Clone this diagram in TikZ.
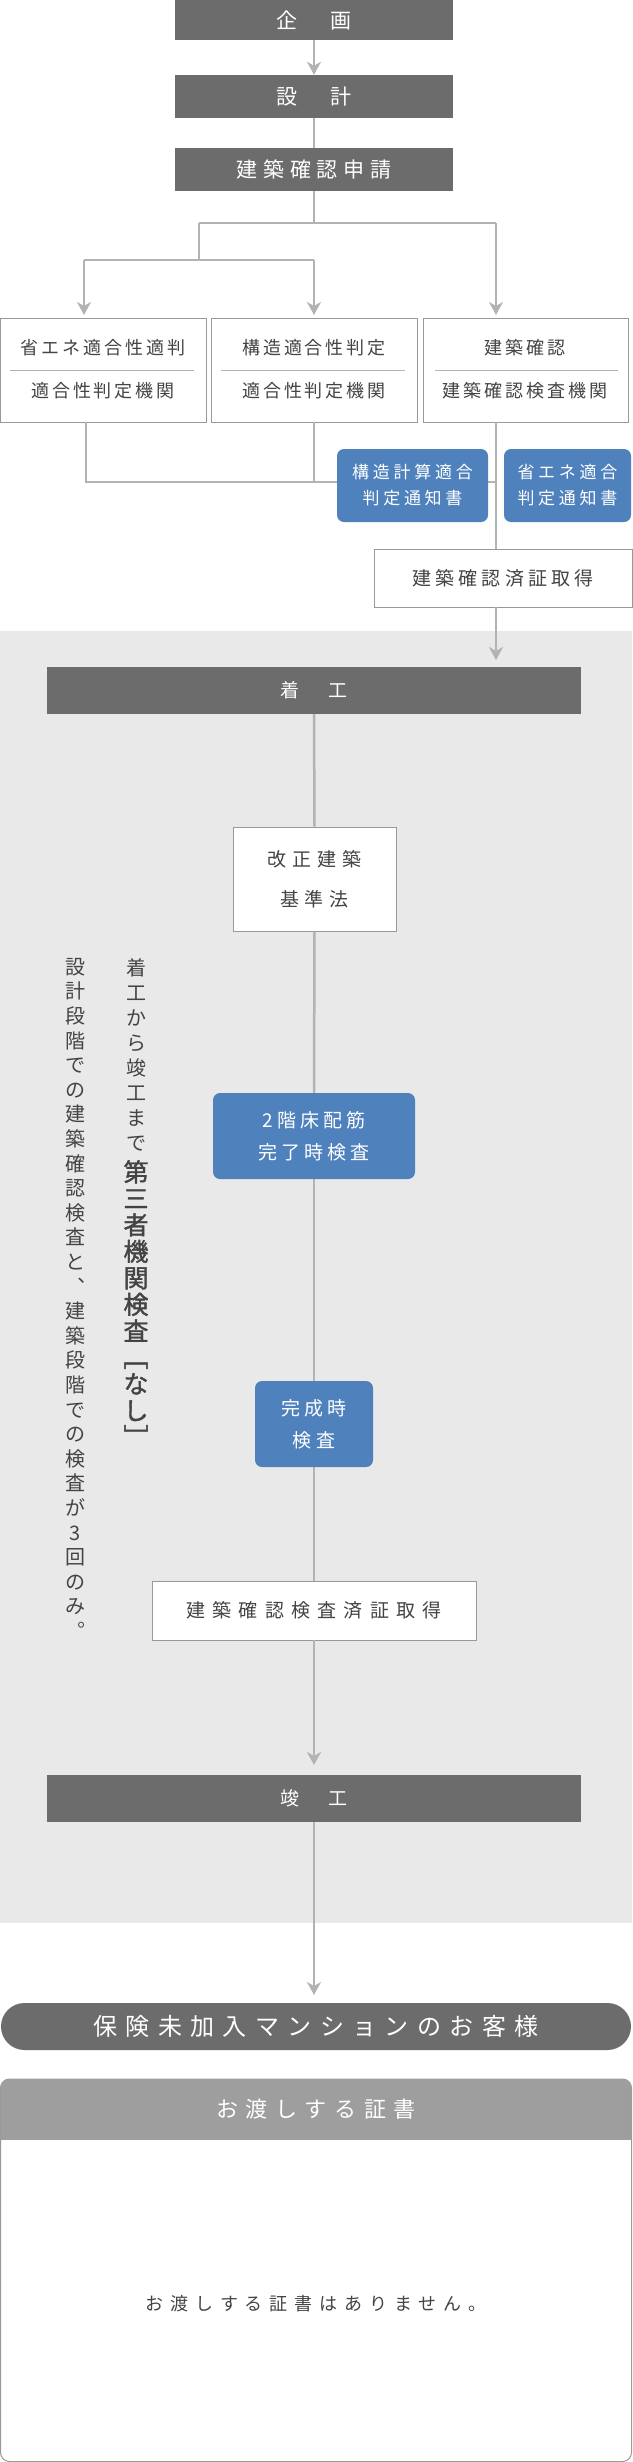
\documentclass[tikz,border=0pt]{standalone}
\usepackage{fontspec}
\setmainfont{Noto Sans CJK JP}
\usetikzlibrary{arrows.meta}
\definecolor{bar}{HTML}{6B6C6B}
\definecolor{blu}{HTML}{4F81BD}
\definecolor{bg}{HTML}{E9E9E9}
\definecolor{ln}{HTML}{B3B3B3}
\definecolor{txt}{HTML}{444444}
\definecolor{bd}{HTML}{999999}
\newcommand{\fs}[3]{\fontsize{#1}{#2}\selectfont\addfontfeature{LetterSpace=#3}}
\begin{document}
\begin{tikzpicture}[x=1pt,y=-1pt,
  darkbar/.style={fill=bar,text=white,inner sep=0pt,font=\fs{21}{24}{28}},
  wbox/.style={draw=bd,fill=white,line width=0.8pt,inner sep=0pt,text=txt,align=center},
  bbox/.style={fill=blu,rounded corners=7pt,inner sep=0pt,text=white,align=center,font=\fs{17}{26}{22}},
  conn/.style={draw=ln,line width=2.5pt},
  arr/.style={conn,-{Stealth[length=13pt,width=14pt,inset=4pt]}},
  lbl/.style={text=txt,inner sep=0pt,font=\fs{18}{22}{16}}]
\useasboundingbox (0,0) rectangle (632,2462);
\fill[bg] (0,631) rectangle (632,1923);
% top bars
\node[darkbar,minimum width=278pt,minimum height=40pt] (kikaku) at (314,20) {企　画};
\node[darkbar,minimum width=278pt,minimum height=43pt] (sekkei) at (314,96.5) {設　計};
\node[darkbar,minimum width=278pt,minimum height=43pt] (shinsei) at (314,169.5) {建築確認申請};
% three boxes
\node[wbox,minimum width=205.5pt,minimum height=104pt] (b1) at (103.25,370) {};
\node[wbox,minimum width=206pt,minimum height=104pt] (b2) at (314,370) {};
\node[wbox,minimum width=205pt,minimum height=104pt] (b3) at (525.5,370) {};
\draw[ln,line width=1pt] (10,370) -- (194,370) (221,370) -- (405,370) (435,370) -- (618,370);
\node[lbl] (t1a) at (103,348) {省エネ適合性適判};
\node[lbl] (t1b) at (103,391) {適合性判定機関};
\node[lbl] (t2a) at (314,348) {構造適合性判定};
\node[lbl] (t2b) at (314,391) {適合性判定機関};
\node[lbl] (t3a) at (525,348) {建築確認};
\node[lbl] (t3b) at (525,391) {建築確認検査機関};
% connectors top
\draw[arr] (kikaku.south) -- (sekkei.north);
\draw[conn] (sekkei.south) -- (shinsei.north);
\coordinate (j0) at (314,223);
\coordinate (jl) at (199,223);
\coordinate (jr) at (496,223);
\coordinate (jl2) at (199,260);
\coordinate (ja) at (84,260);
\coordinate (jb) at (314,260);
\draw[conn] (shinsei.south) -- (j0);
\draw[conn] (jl) -- (jr);
\draw[conn] (jl) -- (jl2);
\draw[conn] (ja) -- (jb);
\draw[arr] (ja) -- (84,315);
\draw[arr] (jb) -- (314,315);
\draw[arr] (jr) -- (496,315);
% bottom connectors
\coordinate (k1) at (86,482);
\coordinate (k2) at (314,482);
\coordinate (k3) at (496,482);
\draw[conn] (86,422) -- (k1) -- (k3);
\draw[conn] (314,422) -- (k2);
\node[wbox,minimum width=258pt,minimum height=58pt,font=\fs{19}{22}{22}] (sumi) at (503,578) {建築確認済証取得};
\draw[conn] (496,422) -- (496,549);
\node[bbox,minimum width=151pt,minimum height=73pt] (n1) at (412.5,485.5) {構造計算適合\\判定通知書};
\node[bbox,minimum width=127pt,minimum height=73pt] (n2) at (567.5,485.5) {省エネ適合\\判定通知書};
% construction
\node[darkbar,minimum width=534pt,minimum height=47pt,font=\fs{19}{22}{28}] (chako) at (314,690.5) {着　工};
\draw[arr] (496,607) -- (496,660);
\node[wbox,minimum width=163pt,minimum height=104pt,font=\fs{19}{40}{30}] (kaisei) at (314.5,879) {改正建築\\基準法};
\node[bbox,minimum width=202pt,minimum height=86pt,font=\fs{19}{32}{22}] (kai2) at (314,1136) {2階床配筋\\完了時検査};
\node[bbox,minimum width=118pt,minimum height=86pt,font=\fs{19}{32}{22}] (kansei) at (314,1424) {完成時\\検査};
\node[wbox,minimum width=324pt,minimum height=59pt,font=\fs{19}{22}{38}] (kensa) at (314,1610.5) {建築確認検査済証取得};
\node[darkbar,minimum width=534pt,minimum height=47pt,font=\fs{19}{22}{28}] (shunko) at (314,1798.5) {竣　工};
\draw[conn] (chako.south) -- (kaisei.north);
\draw[conn] (kaisei.south) -- (kai2.north);
\draw[conn] (kai2.south) -- (kansei.north);
\draw[conn] (kansei.south) -- (kensa.north);
\draw[arr] (kensa.south) -- (314,1765);
% vertical texts
\node[anchor=north,text=txt,align=center,inner sep=0pt,font=\fontsize{20}{24.6}\selectfont] (v1) at (75,958)
 {設\\計\\段\\階\\で\\の\\建\\築\\確\\認\\検\\査\\と\\︑\\建\\築\\段\\階\\で\\の\\検\\査\\が\\3\\回\\の\\み\\︒};
\node[anchor=north,text=txt,align=center,inner sep=0pt,font=\fontsize{20}{25}\selectfont] (v2) at (136,958)
 {着\\工\\か\\ら\\竣\\工\\ま\\で};
\node[anchor=north,text=txt,align=center,inner sep=0pt,font=\fontsize{25}{26.5}\selectfont\addfontfeature{FakeBold=1.5}] (v3) at (136,1160)
 {第\\三\\者\\機\\関\\検\\査\\﹇\\な\\し\\﹈};
% customer
\node[fill=bar,text=white,rounded corners=23.5pt,minimum width=630pt,minimum height=47pt,inner sep=0pt,font=\fs{24}{28}{35}] (pill) at (316,2026.5) {保険未加入マンションのお客様};
\draw[arr] (shunko.south) -- (314,1995);
% certificate box
\draw[bd,line width=1pt,fill=white,rounded corners=9pt] (0.5,2079) rectangle (631.5,2461.5);
\begin{scope}
\clip[rounded corners=9pt] (0.5,2079) rectangle (631.5,2461.5);
\fill[bd!95!white] (0,2079) rectangle (632,2140);
\end{scope}
\node[text=white,inner sep=0pt,font=\fs{22}{26}{35}] (cert) at (316,2109.5) {お渡しする証書};
\node[text=txt,inner sep=0pt,font=\fs{18}{22}{38}] (none) at (316,2304) {お渡しする証書はありません。};
\end{tikzpicture}
\end{document}
